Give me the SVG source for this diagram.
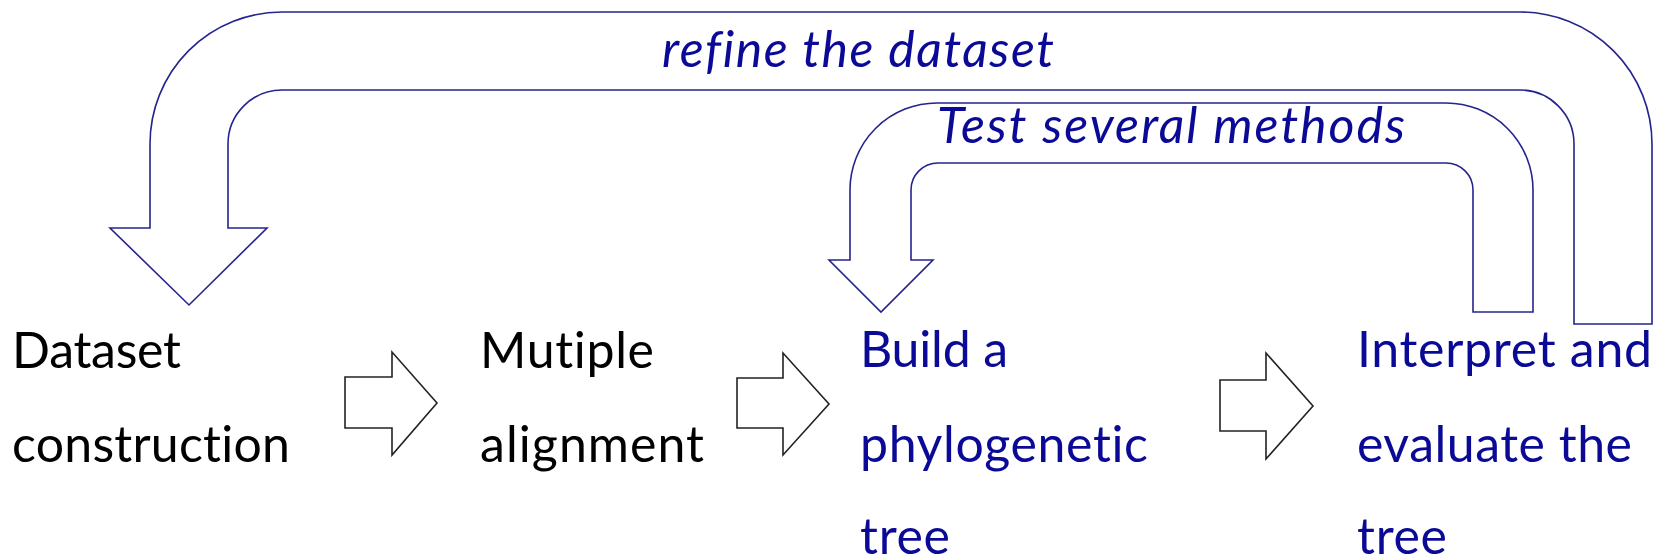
<svg xmlns="http://www.w3.org/2000/svg" width="1669" height="560" viewBox="0 0 1669 560">
<style>
  text { font-variant-ligatures: none; font-feature-settings: "liga" 0, "clig" 0, "dlig" 0; }
  .t { font-family: Lato, "Open Sans", "Liberation Sans", sans-serif; font-size: 50px; }
  .k { fill: #000000; }
  .b { fill: #0a0a96; }
  .lbl { font-family: Lato, "Open Sans", "Liberation Sans", sans-serif; font-size: 50px; font-style: italic; fill: #0a0a96; }
  .fb { fill: #ffffff; stroke: #24248f; stroke-width: 1.6; stroke-linejoin: miter; }
  .blk { fill: #ffffff; stroke: #222222; stroke-width: 1.6; stroke-linejoin: miter; }
</style>
<rect width="1669" height="560" fill="#ffffff"/>
<g id="connectors">
  <path id="refine-loop" class="fb" d="M1574,324 L1652,324 L1652,144 A132,132 0 0 0 1520,12 L282,12 A132,132 0 0 0 150,144 L150,228 L110,228 L189,305 L267,228 L228,228 L228,144 A54,54 0 0 1 282,90 L1520,90 A54,54 0 0 1 1574,144 Z"/>
  <path id="test-loop" class="fb" d="M1473,312 L1533,312 L1533,190 A87,87 0 0 0 1446,103 L937,103 A87,87 0 0 0 850,190 L850,260 L829,260 L881,312 L933,260 L911,260 L911,190 A27,27 0 0 1 938,163 L1446,163 A27,27 0 0 1 1473,190 Z"/>
  <text class="lbl" x="662" y="67" textLength="392" lengthAdjust="spacing">refine the dataset</text>
  <text class="lbl" x="937" y="143" textLength="468" lengthAdjust="spacing">Test several methods</text>
  <path id="arrow1" class="blk" d="M345,377 L392,377 L392,352 L437,403 L392,455 L392,428 L345,428 Z"/>
  <path id="arrow2" class="blk" d="M737,378 L783,378 L783,353 L829,404 L783,455 L783,428 L737,428 Z"/>
  <path id="arrow3" class="blk" d="M1220,380 L1266,380 L1266,353 L1313,406 L1266,459 L1266,431 L1220,431 Z"/>
</g>
<g id="step1">
  <text class="t k" x="12" y="368" textLength="169" lengthAdjust="spacing">Dataset</text>
  <text class="t k" x="12" y="462" textLength="278" lengthAdjust="spacing">construction</text>
</g>
<g id="step2">
  <text class="t k" x="480" y="368" textLength="174" lengthAdjust="spacing">Mutiple</text>
  <text class="t k" x="480" y="462" textLength="224" lengthAdjust="spacing">alignment</text>
</g>
<g id="step3">
  <text class="t b" x="860" y="367" textLength="148" lengthAdjust="spacing">Build a</text>
  <text class="t b" x="860" y="462" textLength="288" lengthAdjust="spacing">phylogenetic</text>
  <text class="t b" x="860" y="554" textLength="90" lengthAdjust="spacing">tree</text>
</g>
<g id="step4">
  <text class="t b" x="1357" y="367" textLength="295" lengthAdjust="spacing">Interpret and</text>
  <text class="t b" x="1357" y="462" textLength="275" lengthAdjust="spacing">evaluate the</text>
  <text class="t b" x="1357" y="554" textLength="90" lengthAdjust="spacing">tree</text>
</g>
</svg>
